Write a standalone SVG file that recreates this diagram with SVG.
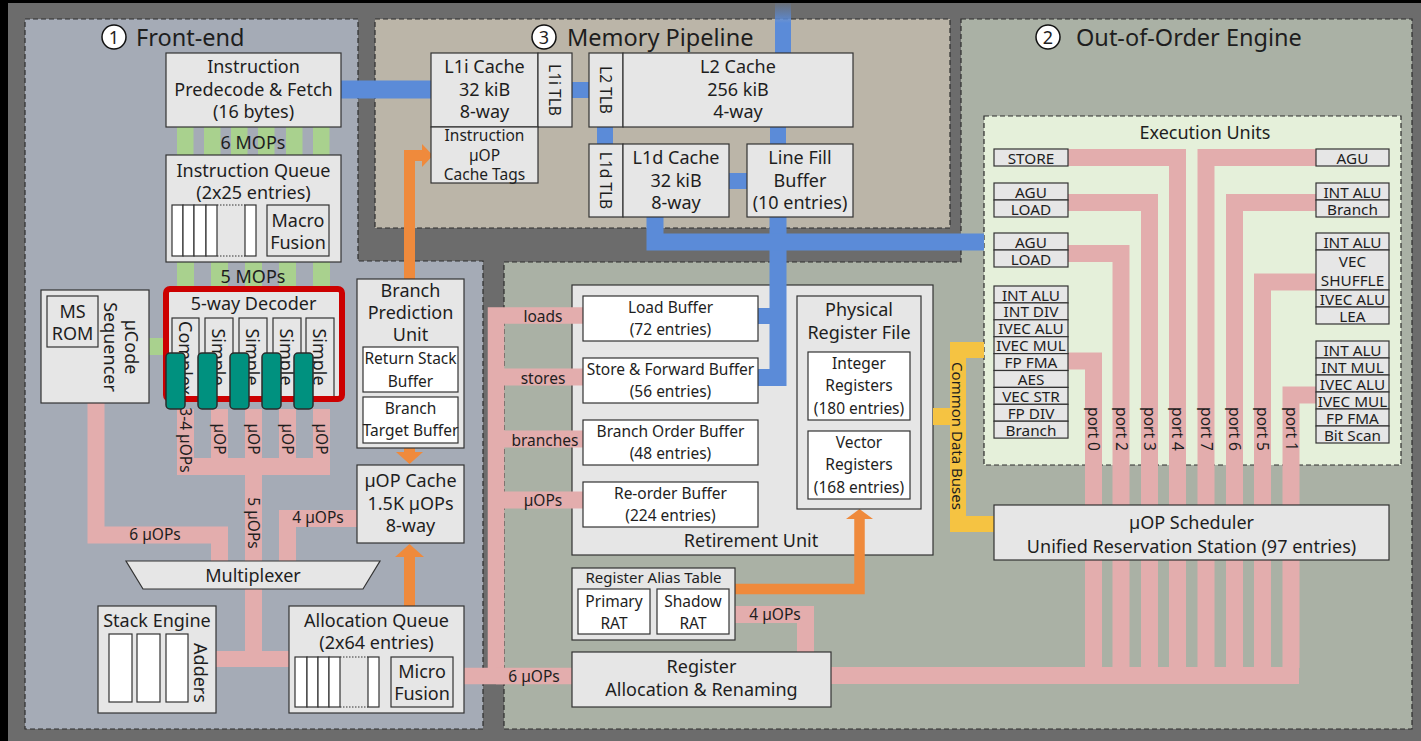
<svg xmlns="http://www.w3.org/2000/svg" width="1421" height="741" viewBox="0 0 1421 741">
<defs>
<style>
.t{font-family:"Noto Sans","Open Sans","DejaVu Sans",sans-serif;fill:#1e1e1e;text-anchor:middle;dominant-baseline:central}
.s{text-anchor:start}
.f23{font-size:23.5px}
.f18{font-size:18px}
.f17{font-size:18px}
.f15{font-size:15.5px}
.f14{font-size:15px}
.fe{font-size:15.3px}
.box{fill:#e6e6e6;stroke:#333;stroke-width:1.2}
.wbox{fill:#fff;stroke:#333;stroke-width:1.2}
.panel{stroke:#2e2e2e;stroke-width:1.2;stroke-dasharray:5 3}
.pink{fill:none;stroke:#e3adad;stroke-width:17}
.blue{fill:none;stroke:#5b8bd8;stroke-width:17}
.green{fill:#a9d18e}
.orange{fill:none;stroke:#ef8a3c;stroke-width:11}
.ohead{fill:#ef8a3c}
.yellow{fill:none;stroke:#f5c342;stroke-width:16}
.teal{fill:#00917f;stroke:#2b2b2b;stroke-width:1.5}
.circ{fill:#fff;stroke:#111;stroke-width:1.5}
.dot{stroke:#333;stroke-width:1;stroke-dasharray:1.5 1.5}
</style>
<linearGradient id="fadeBlue" x1="0" y1="0" x2="0" y2="1">
<stop offset="0" stop-color="#5b8bd8" stop-opacity="0.1"/>
<stop offset="0.4" stop-color="#5b8bd8" stop-opacity="1"/>
<stop offset="1" stop-color="#5b8bd8" stop-opacity="1"/>
</linearGradient>
</defs>

<rect x="0" y="0" width="1421" height="741" fill="#000"/>
<rect x="8" y="3" width="1413" height="738" fill="#6c6c6c"/>

<g id="panels">
<polygon class="panel" fill="#a5abb6" points="25,19 358,19 358,261 483,261 483,729 25,729"/>
<rect class="panel" fill="#bbb5a8" x="375" y="19" width="575" height="209"/>
<polygon class="panel" fill="#aab1a5" points="961,19 1412,19 1412,729 504,729 504,262 961,262"/>
<rect class="panel" fill="#e5f0da" x="984" y="116" width="417" height="349"/>
</g>

<g id="titles">
<circle class="circ" cx="114" cy="37" r="12"/>
<text class="t f18" x="114" y="37">1</text>
<text class="t f23 s" x="136" y="37">Front-end</text>
<circle class="circ" cx="544" cy="37" r="12"/>
<text class="t f18" x="544" y="37">3</text>
<text class="t f23 s" x="567" y="37">Memory Pipeline</text>
<circle class="circ" cx="1048" cy="37" r="12"/>
<text class="t f18" x="1048" y="37">2</text>
<text class="t f23 s" x="1076" y="37">Out-of-Order Engine</text>
<text class="t f17" x="1205" y="132">Execution Units</text>
</g>

<g id="retirement-unit">
<rect class="box" x="572" y="285" width="361" height="270"/>
<text class="t f17" x="751" y="540">Retirement Unit</text>
</g>

<g id="connectors">
<!-- green MOP bars -->
<rect class="green" x="177" y="127" width="16.5" height="28"/>
<rect class="green" x="204" y="127" width="16.5" height="28"/>
<rect class="green" x="231" y="127" width="16.5" height="28"/>
<rect class="green" x="258" y="127" width="16.5" height="28"/>
<rect class="green" x="286" y="127" width="16.5" height="28"/>
<rect class="green" x="313" y="127" width="16.5" height="28"/>
<rect class="green" x="177" y="262" width="17" height="26"/>
<rect class="green" x="211" y="262" width="17" height="26"/>
<rect class="green" x="245" y="262" width="17" height="26"/>
<rect class="green" x="279" y="262" width="17" height="26"/>
<rect class="green" x="313" y="262" width="17" height="26"/>
<rect class="green" x="149" y="338" width="18" height="17"/>
<text class="t f18" x="253" y="142">6 MOPs</text>
<text class="t f18" x="253" y="276">5 MOPs</text>

<!-- blue memory paths -->
<path class="blue" d="M341,89.5 H431" style="stroke-width:18"/>
<path class="blue" d="M572,90 H589" style="stroke-width:16"/>
<rect x="775" y="3" width="16" height="50" fill="url(#fadeBlue)"/>
<path class="blue" d="M605,127 V144" style="stroke-width:16"/>
<path class="blue" d="M778,127 V144" style="stroke-width:16"/>
<path class="blue" d="M729,181 H747" style="stroke-width:16"/>
<path class="blue" d="M778,217 V377.5 H758"/>
<path class="blue" d="M778,316 H758" style="stroke-width:16"/>
<path class="blue" d="M655,217 V242 H984" style="stroke-width:17"/>

<!-- pink µOP paths front-end -->
<path class="pink" d="M185.5,409 V466"/>
<path class="pink" d="M219.5,409 V466"/>
<path class="pink" d="M287.5,409 V466"/>
<path class="pink" d="M321.5,409 V466"/>
<rect x="177" y="458" width="153" height="17" fill="#e3adad"/>
<path class="pink" d="M253.5,409 V561"/>
<path class="pink" d="M96,403 V535 H219.5 V561"/>
<path class="pink" d="M357,518.5 H287.5 V561"/>
<path class="pink" d="M253.5,589 V659"/>
<path class="pink" d="M216,659 H290" style="stroke-width:16"/>
<!-- pink to OoO -->
<path class="pink" d="M583,315.5 H496 V676 H464" style="stroke-width:16.5"/>
<path class="pink" d="M496,377 H583"/>
<path class="pink" d="M496,439 H583"/>
<path class="pink" d="M496,500 H583"/>
<path class="pink" d="M496,676 H572" style="stroke-width:16.5"/>
<path class="pink" d="M735,614.5 H805.5 V652"/>
<!-- pink ports -->
<rect x="831" y="667" width="468" height="17" fill="#e3adad"/>
<path class="pink" d="M1068,157.5 H1177.5 V668"/>
<path class="pink" d="M1316,157.5 H1206 V668"/>
<path class="pink" d="M1068,202.5 H1149.5 V668"/>
<path class="pink" d="M1316,202.5 H1234.5 V668"/>
<path class="pink" d="M1068,253.5 H1121 V668"/>
<path class="pink" d="M1316,282 H1262.5 V668"/>
<path class="pink" d="M1068,361 H1093.5 V668"/>
<path class="pink" d="M1316,395 H1291 V668"/>

<!-- orange -->
<path class="orange" d="M409.5,279 V155.5 H423"/>
<polygon class="ohead" points="422,144 422,167 433,155.5"/>
<rect class="ohead" x="404" y="448" width="11" height="5"/>
<polygon class="ohead" points="396,452 423,452 409.5,464"/>
<path class="orange" d="M409.5,606 V556"/>
<polygon class="ohead" points="395,557 424,557 409.5,544"/>
<path class="orange" d="M735,589 H859.5 V518" style="stroke-width:10.5"/>
<polygon class="ohead" points="846,519 873,519 859.5,509"/>

<!-- yellow common data buses -->
<path class="yellow" d="M984,350 H958 V524 H994"/>
<path class="yellow" d="M933,416.5 H958" style="stroke-width:17"/>

<!-- labels on connectors -->
<text class="t f15" transform="translate(186,440) rotate(90)">3-4 µOPs</text>
<text class="t f15" transform="translate(220,439) rotate(90)">µOP</text>
<text class="t f15" transform="translate(254,439) rotate(90)">µOP</text>
<text class="t f15" transform="translate(288,439) rotate(90)">µOP</text>
<text class="t f15" transform="translate(321.5,439) rotate(90)">µOP</text>
<text class="t f15" transform="translate(253.5,523) rotate(90)">5 µOPs</text>
<text class="t f15" x="155" y="534">6 µOPs</text>
<text class="t f15" x="318" y="517">4 µOPs</text>
<text class="t f15" x="543" y="316">loads</text>
<text class="t f15" x="543" y="378">stores</text>
<text class="t f15" x="545" y="440">branches</text>
<text class="t f15" x="543" y="500">µOPs</text>
<text class="t f15" x="534" y="676">6 µOPs</text>
<text class="t f15" x="775" y="614">4 µOPs</text>
<text class="t" style="font-size:15px" transform="translate(958,436) rotate(90)">Common Data Buses</text>
<text class="t f15" transform="translate(1094,429) rotate(90)">port 0</text>
<text class="t f15" transform="translate(1121.5,429) rotate(90)">port 2</text>
<text class="t f15" transform="translate(1150,429) rotate(90)">port 3</text>
<text class="t f15" transform="translate(1178,429) rotate(90)">port 4</text>
<text class="t f15" transform="translate(1206.5,429) rotate(90)">port 7</text>
<text class="t f15" transform="translate(1235,429) rotate(90)">port 6</text>
<text class="t f15" transform="translate(1263,429) rotate(90)">port 5</text>
<text class="t f15" transform="translate(1291.5,429) rotate(90)">port 1</text>
</g>

<g id="predecode">
<rect class="box" x="166" y="53" width="175" height="74"/>
<text class="t f17" x="253.5" y="66">Instruction</text>
<text class="t f17" x="253.5" y="88.5">Predecode &amp; Fetch</text>
<text class="t f17" x="253.5" y="111">(16 bytes)</text>
</g>

<g id="instruction-queue">
<rect class="box" x="166" y="155" width="175" height="107"/>
<text class="t f17" x="253.5" y="170">Instruction Queue</text>
<text class="t f17" x="253.5" y="192">(2x25 entries)</text>
<rect x="172" y="205" width="84" height="51" fill="#e6e6e6" stroke="none"/>
<rect class="wbox" x="172" y="205" width="11" height="51"/>
<rect class="wbox" x="183" y="205" width="11" height="51"/>
<rect class="wbox" x="194" y="205" width="12" height="51"/>
<rect class="wbox" x="206" y="205" width="11" height="51"/>
<rect class="wbox" x="245" y="205" width="11" height="51"/>
<line class="dot" x1="217" y1="205" x2="245" y2="205"/>
<line class="dot" x1="217" y1="256" x2="245" y2="256"/>
<rect class="box" x="267" y="205" width="62" height="51"/>
<text class="t f17" x="298" y="220">Macro</text>
<text class="t f17" x="298" y="242">Fusion</text>
</g>

<g id="ucode-sequencer">
<rect class="box" x="41" y="290" width="108" height="113"/>
<rect class="box" x="47" y="296" width="51" height="51"/>
<text class="t f17" x="72.5" y="311">MS</text>
<text class="t f17" x="72.5" y="333">ROM</text>
<text class="t f17" transform="translate(132,347) rotate(90)">µCode</text>
<text class="t f17" transform="translate(111,347) rotate(90)">Sequencer</text>
</g>

<g id="decoder">
<rect x="166" y="289" width="176" height="110" fill="#e6e6e6"/>
<text class="t f17" x="253.5" y="303">5-way Decoder</text>
<rect class="box" x="172" y="318" width="27" height="80"/>
<rect class="box" x="205" y="318" width="28" height="80"/>
<rect class="box" x="239" y="318" width="28" height="80"/>
<rect class="box" x="273" y="318" width="28" height="80"/>
<rect class="box" x="306" y="318" width="28" height="80"/>
<text class="t f17 s" transform="translate(186,321) rotate(90)">Complex</text>
<text class="t f17" transform="translate(219,357) rotate(90)">Simple</text>
<text class="t f17" transform="translate(253,357) rotate(90)">Simple</text>
<text class="t f17" transform="translate(287,357) rotate(90)">Simple</text>
<text class="t f17" transform="translate(320,357) rotate(90)">Simple</text>
<rect x="166" y="289" width="176" height="110" rx="4" fill="none" stroke="#cc0000" stroke-width="6"/>
</g>

<g id="decoder-buffers">
<rect class="teal" x="166" y="353" width="19" height="56" rx="4"/>
<rect class="teal" x="198" y="353" width="19" height="56" rx="4"/>
<rect class="teal" x="230" y="353" width="19" height="56" rx="4"/>
<rect class="teal" x="262" y="353" width="19" height="56" rx="4"/>
<rect class="teal" x="294" y="353" width="19" height="56" rx="4"/>
</g>

<g id="bpu">
<rect class="box" x="357" y="279" width="107" height="169"/>
<text class="t f17" x="410.5" y="290">Branch</text>
<text class="t f17" x="410.5" y="312">Prediction</text>
<text class="t f17" x="410.5" y="334">Unit</text>
<rect class="wbox" x="363" y="347" width="95" height="45"/>
<text class="t f15" x="410.5" y="358">Return Stack</text>
<text class="t f15" x="410.5" y="381">Buffer</text>
<rect class="wbox" x="363" y="397" width="95" height="46"/>
<text class="t f15" x="410.5" y="408">Branch</text>
<text class="t f15" x="410.5" y="430">Target Buffer</text>
</g>

<g id="uop-cache">
<rect class="box" x="357" y="465" width="107" height="78"/>
<text class="t f17" x="410.5" y="480">µOP Cache</text>
<text class="t f17" x="410.5" y="503">1.5K µOPs</text>
<text class="t f17" x="410.5" y="525">8-way</text>
</g>

<g id="multiplexer">
<polygon class="box" points="126,561 380,561 363,589 143,589"/>
<text class="t f17" x="253" y="575">Multiplexer</text>
</g>

<g id="stack-engine">
<rect class="box" x="98" y="606" width="118" height="107"/>
<text class="t f17" x="157" y="620">Stack Engine</text>
<rect class="wbox" x="109" y="634" width="23" height="68"/>
<rect class="wbox" x="137" y="634" width="23" height="68"/>
<rect class="wbox" x="166" y="634" width="22" height="68"/>
<text class="t f17" transform="translate(201,673) rotate(90)">Adders</text>
</g>

<g id="allocation-queue">
<rect class="box" x="289" y="606" width="175" height="107"/>
<text class="t f17" x="376.5" y="620">Allocation Queue</text>
<text class="t f17" x="376.5" y="642">(2x64 entries)</text>
<rect class="wbox" x="295" y="657" width="12" height="50"/>
<rect class="wbox" x="307" y="657" width="11" height="50"/>
<rect class="wbox" x="318" y="657" width="11" height="50"/>
<rect class="wbox" x="329" y="657" width="11" height="50"/>
<rect class="wbox" x="368" y="657" width="11" height="50"/>
<line class="dot" x1="340" y1="657" x2="368" y2="657"/>
<line class="dot" x1="340" y1="707" x2="368" y2="707"/>
<rect class="box" x="391" y="657" width="62" height="50"/>
<text class="t f17" x="422" y="671">Micro</text>
<text class="t f17" x="422" y="693">Fusion</text>
</g>

<g id="l1i-cache">
<rect class="box" x="431" y="53" width="107" height="74"/>
<text class="t f17" x="484.5" y="66">L1i Cache</text>
<text class="t f17" x="484.5" y="89">32 kiB</text>
<text class="t f17" x="484.5" y="111">8-way</text>
<rect class="box" x="538" y="53" width="34" height="74"/>
<text class="t f15" transform="translate(555,90) rotate(90)">L1i TLB</text>
<rect class="box" x="431" y="127" width="107" height="56"/>
<text class="t f15" x="484.5" y="135">Instruction</text>
<text class="t f15" x="484.5" y="155">µOP</text>
<text class="t f15" x="484.5" y="174">Cache Tags</text>
</g>

<g id="l2-cache">
<rect class="box" x="589" y="53" width="34" height="74"/>
<text class="t f15" transform="translate(606,90) rotate(90)">L2 TLB</text>
<rect class="box" x="623" y="53" width="230" height="74"/>
<text class="t f17" x="738" y="66">L2 Cache</text>
<text class="t f17" x="738" y="89">256 kiB</text>
<text class="t f17" x="738" y="111">4-way</text>
</g>

<g id="l1d-cache">
<rect class="box" x="589" y="144" width="34" height="73"/>
<text class="t f15" transform="translate(606,180.5) rotate(90)">L1d TLB</text>
<rect class="box" x="623" y="144" width="106" height="73"/>
<text class="t f17" x="676" y="157">L1d Cache</text>
<text class="t f17" x="676" y="180">32 kiB</text>
<text class="t f17" x="676" y="202">8-way</text>
</g>

<g id="line-fill-buffer">
<rect class="box" x="747" y="144" width="106" height="73"/>
<text class="t f17" x="800" y="157">Line Fill</text>
<text class="t f17" x="800" y="180">Buffer</text>
<text class="t f17" x="800" y="202">(10 entries)</text>
</g>

<g id="load-buffer">
<rect class="wbox" x="583" y="296" width="175" height="45"/>
<text class="t f15" x="670.5" y="307">Load Buffer</text>
<text class="t f15" x="670.5" y="329">(72 entries)</text>
</g>
<g id="store-forward-buffer">
<rect class="wbox" x="583" y="358" width="175" height="45"/>
<text class="t f15" x="670.5" y="369">Store &amp; Forward Buffer</text>
<text class="t f15" x="670.5" y="391">(56 entries)</text>
</g>
<g id="branch-order-buffer">
<rect class="wbox" x="583" y="420" width="175" height="45"/>
<text class="t f15" x="670.5" y="431">Branch Order Buffer</text>
<text class="t f15" x="670.5" y="453">(48 entries)</text>
</g>
<g id="reorder-buffer">
<rect class="wbox" x="583" y="482" width="175" height="45"/>
<text class="t f15" x="670.5" y="493">Re-order Buffer</text>
<text class="t f15" x="670.5" y="515">(224 entries)</text>
</g>

<g id="register-file">
<rect class="box" x="797" y="296" width="124" height="213"/>
<text class="t f17" x="859" y="309">Physical</text>
<text class="t f17" x="859" y="332">Register File</text>
<rect class="wbox" x="808" y="352" width="102" height="68"/>
<text class="t f15" x="859" y="363">Integer</text>
<text class="t f15" x="859" y="385">Registers</text>
<text class="t f15" x="859" y="408">(180 entries)</text>
<rect class="wbox" x="808" y="431" width="102" height="68"/>
<text class="t f15" x="859" y="442">Vector</text>
<text class="t f15" x="859" y="464">Registers</text>
<text class="t f15" x="859" y="487">(168 entries)</text>
</g>

<g id="register-alias-table">
<rect class="box" x="572" y="568" width="163" height="72"/>
<text class="t f14" x="653.5" y="577">Register Alias Table</text>
<rect class="wbox" x="578" y="589" width="72" height="45"/>
<text class="t f15" x="614" y="601">Primary</text>
<text class="t f15" x="614" y="623">RAT</text>
<rect class="wbox" x="657" y="589" width="72" height="45"/>
<text class="t f15" x="693" y="601">Shadow</text>
<text class="t f15" x="693" y="623">RAT</text>
</g>

<g id="register-allocation">
<rect class="box" x="572" y="652" width="259" height="55"/>
<text class="t f17" x="701.5" y="666">Register</text>
<text class="t f17" x="701.5" y="689">Allocation &amp; Renaming</text>
</g>

<g id="scheduler">
<rect class="box" x="994" y="505" width="395" height="55"/>
<text class="t f17" x="1191.5" y="522">µOP Scheduler</text>
<text class="t f17" x="1191.5" y="546">Unified Reservation Station (97 entries)</text>
</g>

<g id="eu-left">
<rect class="box" x="994" y="149" width="74" height="17"/><text class="t fe" x="1031" y="157.5">STORE</text>
<rect class="box" x="994" y="183" width="74" height="17"/><text class="t fe" x="1031" y="191.5">AGU</text>
<rect class="box" x="994" y="200" width="74" height="17"/><text class="t fe" x="1031" y="208.5">LOAD</text>
<rect class="box" x="994" y="233" width="74" height="17"/><text class="t fe" x="1031" y="241.5">AGU</text>
<rect class="box" x="994" y="250" width="74" height="17"/><text class="t fe" x="1031" y="258.5">LOAD</text>
<rect class="box" x="994" y="286" width="74" height="16.9"/><text class="t fe" x="1031" y="294.5">INT ALU</text>
<rect class="box" x="994" y="302.9" width="74" height="16.9"/><text class="t fe" x="1031" y="311.4">INT DIV</text>
<rect class="box" x="994" y="319.8" width="74" height="16.9"/><text class="t fe" x="1031" y="328.3">IVEC ALU</text>
<rect class="box" x="994" y="336.7" width="74" height="16.9"/><text class="t fe" x="1031" y="345.2">IVEC MUL</text>
<rect class="box" x="994" y="353.6" width="74" height="16.9"/><text class="t fe" x="1031" y="362.1">FP FMA</text>
<rect class="box" x="994" y="370.5" width="74" height="16.9"/><text class="t fe" x="1031" y="379">AES</text>
<rect class="box" x="994" y="387.4" width="74" height="16.9"/><text class="t fe" x="1031" y="395.9">VEC STR</text>
<rect class="box" x="994" y="404.3" width="74" height="16.9"/><text class="t fe" x="1031" y="412.8">FP DIV</text>
<rect class="box" x="994" y="421.2" width="74" height="16.9"/><text class="t fe" x="1031" y="429.7">Branch</text>
</g>

<g id="eu-right">
<rect class="box" x="1316" y="149" width="73" height="17"/><text class="t fe" x="1352.5" y="157.5">AGU</text>
<rect class="box" x="1316" y="183" width="73" height="17"/><text class="t fe" x="1352.5" y="191.5">INT ALU</text>
<rect class="box" x="1316" y="200" width="73" height="17"/><text class="t fe" x="1352.5" y="208.5">Branch</text>
<rect class="box" x="1316" y="233" width="73" height="17"/><text class="t fe" x="1352.5" y="241.5">INT ALU</text>
<rect class="box" x="1316" y="250" width="73" height="40"/><text class="t fe" x="1352.5" y="261">VEC</text><text class="t fe" x="1352.5" y="280">SHUFFLE</text>
<rect class="box" x="1316" y="290" width="73" height="17"/><text class="t fe" x="1352.5" y="298.5">IVEC ALU</text>
<rect class="box" x="1316" y="307" width="73" height="17"/><text class="t fe" x="1352.5" y="315.5">LEA</text>
<rect class="box" x="1316" y="341" width="73" height="17"/><text class="t fe" x="1352.5" y="349.5">INT ALU</text>
<rect class="box" x="1316" y="358" width="73" height="17"/><text class="t fe" x="1352.5" y="366.5">INT MUL</text>
<rect class="box" x="1316" y="375" width="73" height="17"/><text class="t fe" x="1352.5" y="383.5">IVEC ALU</text>
<rect class="box" x="1316" y="392" width="73" height="17"/><text class="t fe" x="1352.5" y="400.5">IVEC MUL</text>
<rect class="box" x="1316" y="409" width="73" height="17"/><text class="t fe" x="1352.5" y="417.5">FP FMA</text>
<rect class="box" x="1316" y="426" width="73" height="17"/><text class="t fe" x="1352.5" y="434.5">Bit Scan</text>
</g>
</svg>
